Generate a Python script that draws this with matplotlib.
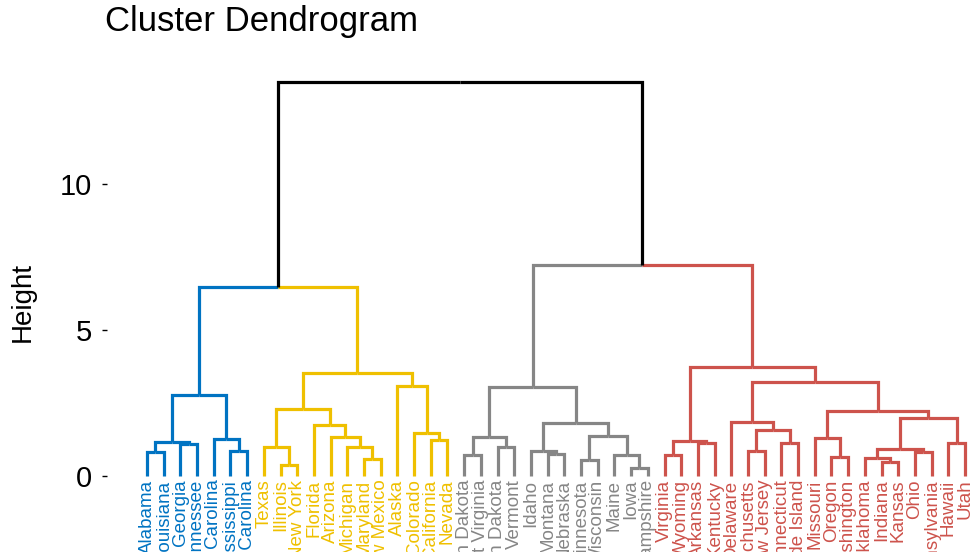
import matplotlib
matplotlib.use("Agg")
import matplotlib.pyplot as plt

plt.rcParams['font.family'] = ['Liberation Sans', 'DejaVu Sans']

# leaf order, left to right, with cluster number of each leaf
leaves = ["Alabama", "Louisiana", "Georgia", "Tennessee", "North Carolina",
          "Mississippi", "South Carolina",
          "Texas", "Illinois", "New York", "Florida", "Arizona", "Michigan",
          "Maryland", "New Mexico", "Alaska", "Colorado", "California", "Nevada",
          "South Dakota", "West Virginia", "North Dakota", "Vermont", "Idaho",
          "Montana", "Nebraska", "Minnesota", "Wisconsin", "Maine", "Iowa",
          "New Hampshire",
          "Virginia", "Wyoming", "Arkansas", "Kentucky", "Delaware",
          "Massachusetts", "New Jersey", "Connecticut", "Rhode Island",
          "Missouri", "Oregon", "Washington", "Oklahoma", "Indiana", "Kansas",
          "Ohio", "Pennsylvania", "Hawaii", "Utah"]
cluster_sizes = [7, 12, 12, 19]
cluster_colors = ["#0073C2", "#EFC000", "#868686", "#CD534C"]

# merges: (left child, right child, height); ints refer to earlier merges
merges = [
    ("Alabama", "Louisiana", 0.82),
    ("Georgia", "Tennessee", 1.10),
    (0, 1, 1.17),
    ("Mississippi", "South Carolina", 0.86),
    ("North Carolina", 3, 1.27),
    (2, 4, 2.77),
    ("Illinois", "New York", 0.38),
    ("Texas", 6, 1.00),
    ("Maryland", "New Mexico", 0.58),
    ("Michigan", 8, 1.00),
    ("Arizona", 9, 1.34),
    ("Florida", 10, 1.75),
    (7, 11, 2.29),
    ("California", "Nevada", 1.23),
    ("Colorado", 13, 1.47),
    ("Alaska", 14, 3.08),
    (12, 15, 3.53),
    (5, 16, 6.47),
    ("South Dakota", "West Virginia", 0.72),
    ("North Dakota", "Vermont", 1.00),
    (18, 19, 1.35),
    ("Montana", "Nebraska", 0.75),
    ("Idaho", 21, 0.84),
    ("Minnesota", "Wisconsin", 0.55),
    ("Iowa", "New Hampshire", 0.27),
    ("Maine", 24, 0.72),
    (23, 25, 1.37),
    (22, 26, 1.81),
    (20, 27, 3.05),
    ("Virginia", "Wyoming", 0.72),
    ("Arkansas", "Kentucky", 1.13),
    (29, 30, 1.21),
    ("Massachusetts", "New Jersey", 0.86),
    ("Connecticut", "Rhode Island", 1.14),
    (32, 33, 1.58),
    ("Delaware", 34, 1.86),
    ("Oregon", "Washington", 0.65),
    ("Missouri", 36, 1.30),
    ("Indiana", "Kansas", 0.49),
    ("Oklahoma", 38, 0.61),
    ("Ohio", "Pennsylvania", 0.83),
    (39, 40, 0.92),
    ("Hawaii", "Utah", 1.14),
    (41, 42, 1.99),
    (37, 43, 2.24),
    (35, 44, 3.23),
    (31, 45, 3.73),
    (28, 46, 7.23),
    (17, 47, 13.49),
]

# leaf -> x position and colour
leaf_x = {name: i + 1 for i, name in enumerate(leaves)}
leaf_col = {}
k = 0
for size, col in zip(cluster_sizes, cluster_colors):
    for name in leaves[k:k + size]:
        leaf_col[name] = col
    k += size

node_x, node_h, node_col = [], [], []


def child_info(c):
    """x, height and colour of a child (leaf name or merge index)"""
    if isinstance(c, str):
        return leaf_x[c], 0.0, leaf_col[c]
    return node_x[c], node_h[c], node_col[c]


fig = plt.figure(figsize=(9.77, 5.52), dpi=100)
W, H = 977, 552
ax = fig.add_axes([107 / W, 1 - 478 / H, (W - 107) / W, (478 - 60) / H])

for a, b, h in merges:
    xa, ha, ca = child_info(a)
    xb, hb, cb = child_info(b)
    xm = (xa + xb) / 2
    ax.plot([xa, xa, xm], [ha, h, h], color=ca, lw=2.3, clip_on=False,
            solid_joinstyle='miter', solid_capstyle='butt')
    ax.plot([xb, xb, xm], [hb, h, h], color=cb, lw=2.3, clip_on=False,
            solid_joinstyle='miter', solid_capstyle='butt')
    node_x.append(xm)
    node_h.append(h)
    node_col.append(ca if ca == cb else "black")

for name in leaves:
    ax.text(leaf_x[name], -0.12, name, rotation=90, ha='center', va='top',
            color=leaf_col[name], fontsize=13.5, clip_on=False)

px_per_unit = 29.2
ax.set_ylim(-2 / px_per_unit, (476 - 60) / px_per_unit)
spacing = (965 - 147) / 49
ax.set_xlim(1 - 40 / spacing, 50 + 12 / spacing)

for s in ax.spines.values():
    s.set_visible(False)
ax.set_xticks([])
ax.set_yticks([0, 5, 10])
ax.tick_params(axis='y', length=3.5, width=1.0, pad=7, labelsize=21)
ax.set_ylabel("Height", fontsize=20)
# right edge of the rotated label sits ~36 px from the figure's left
ax.yaxis.set_label_coords((36 - 107) / (W - 107), (478 - 302) / (478 - 60))

fig.text(105 / W, 1 - 22 / H, "Cluster Dendrogram", fontsize=25,
         ha='left', va='center')

fig.savefig("out.png", dpi=100)
